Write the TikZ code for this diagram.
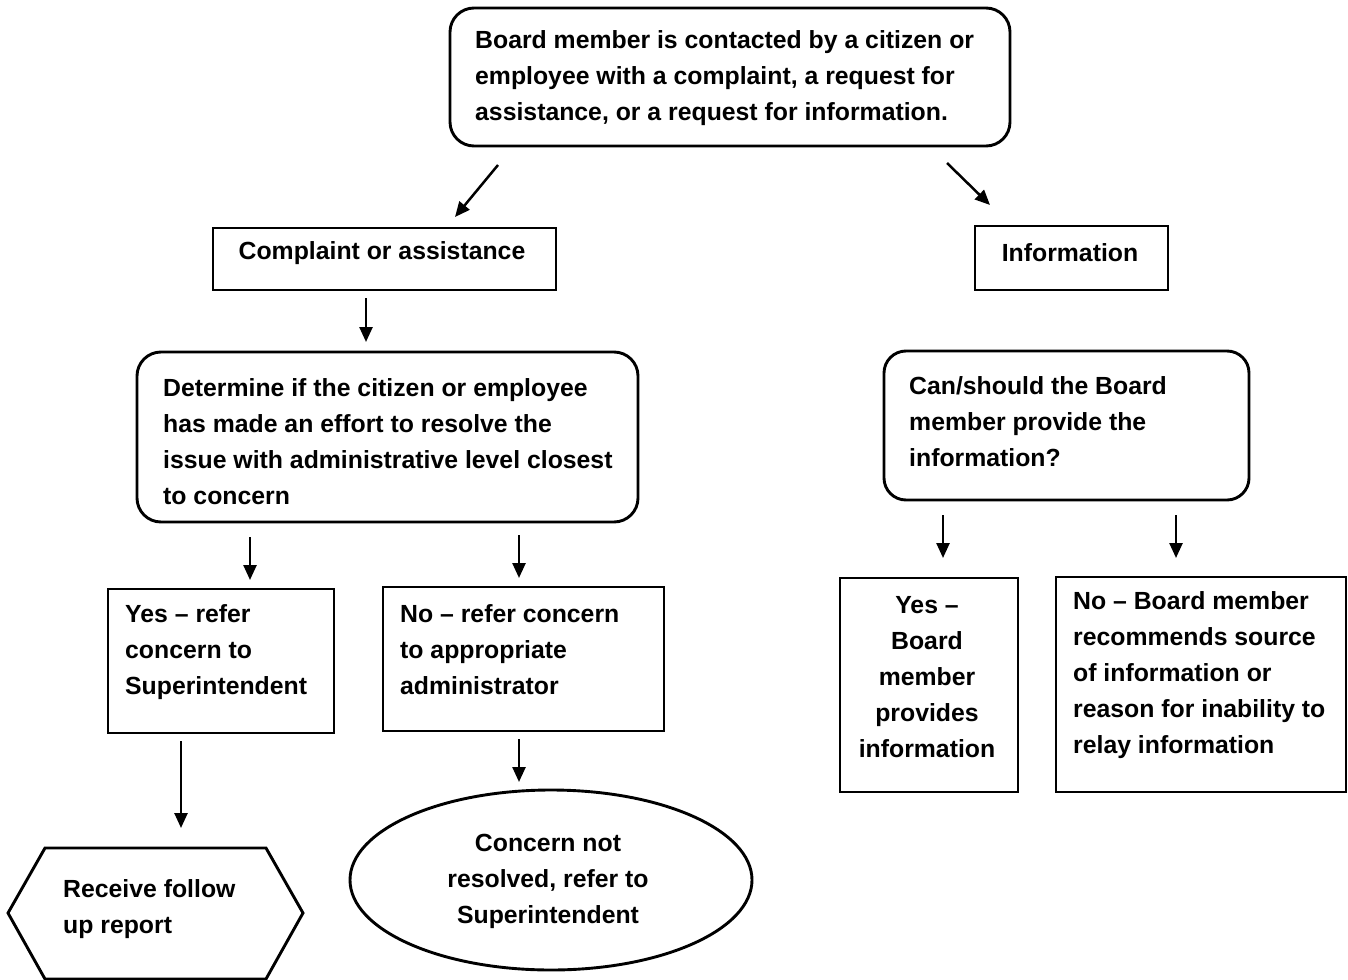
\documentclass[tikz,border=0pt]{standalone}
\usepackage{fontspec}
\setmainfont{Liberation Sans}
\usetikzlibrary{arrows.meta,shapes.geometric}
\hyphenpenalty=10000
\begin{document}
\begin{tikzpicture}[x=1pt,y=-1pt,
  txt/.style={inner sep=0pt,font=\fontsize{24.8}{36}\selectfont\bfseries},
  ltxt/.style={txt,anchor=west,align=left},
  ctxt/.style={txt,anchor=center,align=center},
  box/.style={draw,line width=2.9pt,inner sep=0pt},
  rbox/.style={box,rounded corners=24pt},
  arr/.style={line width=2.5pt,-{Triangle[length=15pt,width=13pt]}}]
\useasboundingbox (0,0) rectangle (1348,979);

% boxes
\node[rbox,minimum width=560pt,minimum height=138pt] (top) at (730,77) {};
\node[box,minimum width=343pt,minimum height=62pt] (comp) at (384.5,259) {};
\node[box,minimum width=193pt,minimum height=64pt] (info) at (1071.5,258) {};
\node[rbox,minimum width=501pt,minimum height=170pt] (det) at (387.5,437) {};
\node[rbox,rounded corners=22pt,minimum width=365pt,minimum height=149pt] (can) at (1066.5,425.5) {};
\node[box,minimum width=226pt,minimum height=144pt] (yes1) at (221,661) {};
\node[box,minimum width=281pt,minimum height=144pt] (no1) at (523.5,659) {};
\node[box,minimum width=178pt,minimum height=214pt] (yes2) at (929,685) {};
\node[box,minimum width=290pt,minimum height=215pt] (no2) at (1201,684.5) {};
\node[box,ellipse,minimum width=402pt,minimum height=180pt] (ell) at (551,880) {};
\draw[line width=2.9pt] (8,913) -- (45,848) -- (266,848) -- (303,913) -- (266,979) -- (45,979) -- cycle;
\coordinate (hex) at (181,848);

% texts
\node[ltxt] (topT) at (475,78) {Board member is contacted by a citizen or\\employee with a complaint, a request for\\assistance, or a request for information.};
\node[ctxt] (compT) at (382,253) {Complaint or assistance};
\node[ctxt] (infoT) at (1070,253) {Information};
\node[ltxt] (detT) at (163,442) {Determine if the citizen or employee\\has made an effort to resolve the\\issue with administrative level closest\\to concern};
\node[ltxt] (canT) at (909,422) {Can/should the Board\\member provide the\\information?};
\node[ltxt] (yes1T) at (125,652) {Yes -- refer\\concern to\\Superintendent};
\node[ltxt] (no1T) at (400,650) {No -- refer concern\\to appropriate\\administrator};
\node[ctxt] (yes2T) at (927,677) {Yes --\\Board\\member\\provides\\information};
\node[ltxt] (no2T) at (1073,675) {No -- Board member\\recommends source\\of information or\\reason for inability to\\relay information};
\node[ltxt] (hexT) at (63,909) {Receive follow\\up report};
\node[ctxt] (ellT) at (548,881) {Concern not\\resolved, refer to\\Superintendent};

% connector ends
\coordinate (a1s) at (498,165); \coordinate (a1e) at (455,217);
\coordinate (a2s) at (947,163); \coordinate (a2e) at (990,205);
\coordinate (a3s) at (366,298); \coordinate (a3e) at (366,342);
\coordinate (a4s) at (250,537); \coordinate (a4e) at (250,580);
\coordinate (a5s) at (519,535); \coordinate (a5e) at (519,578);
\coordinate (a6s) at (943,515); \coordinate (a6e) at (943,558);
\coordinate (a7s) at (1176,515); \coordinate (a7e) at (1176,558);
\coordinate (a8s) at (181,741); \coordinate (a8e) at (181,828);
\coordinate (a9s) at (519,739); \coordinate (a9e) at (519,782);

\draw[arr] (a1s) -- (a1e);
\draw[arr] (a2s) -- (a2e);
\draw[arr] (a3s) -- (a3e);
\draw[arr] (a4s) -- (a4e);
\draw[arr] (a5s) -- (a5e);
\draw[arr] (a6s) -- (a6e);
\draw[arr] (a7s) -- (a7e);
\draw[arr] (a8s) -- (a8e);
\draw[arr] (a9s) -- (a9e);
\end{tikzpicture}
\end{document}
